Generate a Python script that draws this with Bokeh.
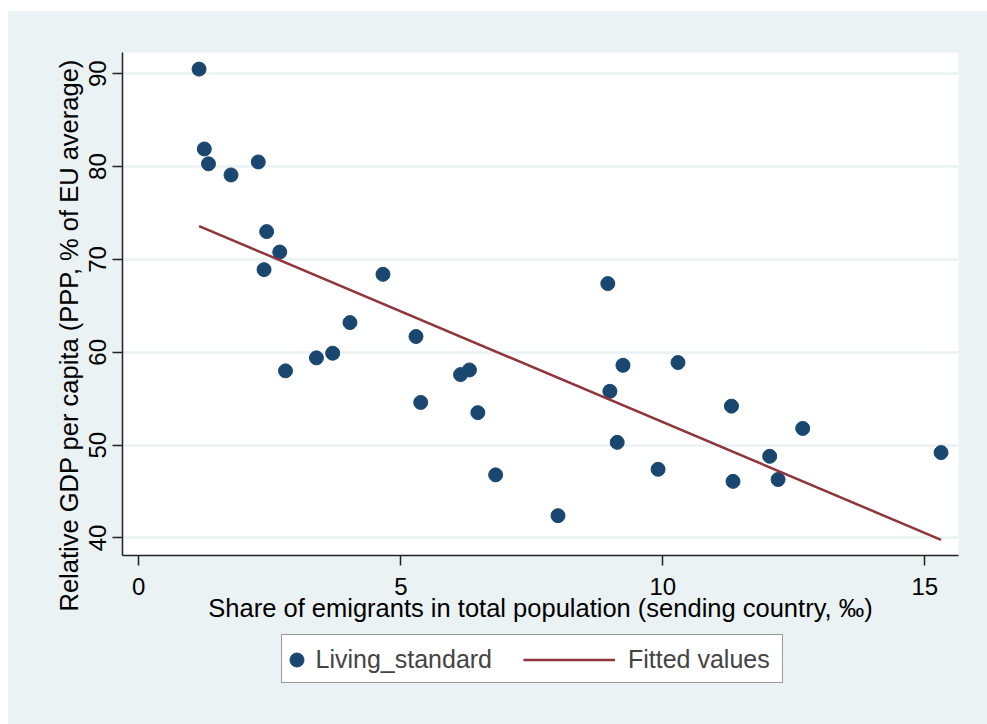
from bokeh.plotting import figure
from bokeh.layouts import column
from bokeh.models import Range1d, FixedTicker, Legend, LegendItem, Title
from bokeh.embed import file_html
from bokeh.resources import INLINE

# Data
emigrant_share = [1.15, 1.25, 1.33, 1.76, 2.28, 2.44, 2.69, 2.39, 4.66, 4.03,
                  3.70, 3.39, 2.80, 5.29, 6.14, 6.31, 5.38, 6.47, 6.81, 8.00,
                  8.95, 9.24, 10.29, 8.99, 11.31, 12.67, 9.13, 12.04, 9.91,
                  15.31, 11.34, 12.20]
living_standard = [90.5, 81.9, 80.3, 79.1, 80.5, 73.0, 70.8, 68.9, 68.4, 63.2,
                   59.9, 59.4, 58.0, 61.7, 57.6, 58.1, 54.6, 53.5, 46.8, 42.4,
                   67.4, 58.6, 58.9, 55.8, 54.2, 51.8, 50.3, 48.8, 47.4,
                   49.2, 46.1, 46.3]
fit_x = [1.15, 15.31]
fit_y = [73.6, 39.8]
x_ticks = [0, 5, 10, 15]
y_ticks = [40, 50, 60, 70, 80, 90]
series_names = ["Living_standard", "Fitted values"]
x_title = "Share of emigrants in total population (sending country, \u2030)"
y_title = "Relative GDP per capita (PPP, % of EU average)"

BG = "#EAF2F3"
NAVY = "#1A476F"
MAROON = "#90353B"
FONT = "Liberation Sans"

# ---- main chart ----
p = figure(width=979, height=620, output_backend="svg", toolbar_location=None,
           x_range=Range1d(-0.311, 15.643), y_range=Range1d(38.115, 92.29),
           min_border_left=114, min_border_right=29, min_border_top=41,
           min_border_bottom=76)
p.border_fill_color = BG
p.background_fill_color = "white"
p.outline_line_color = None

pts = p.scatter(emigrant_share, living_standard, size=14, marker="circle",
                fill_color=NAVY, line_color=NAVY)
fit = p.line(fit_x, fit_y, line_color=MAROON, line_width=2.5)

p.xgrid.grid_line_color = None
p.ygrid.grid_line_color = BG
p.ygrid.grid_line_width = 2.5

for ax in (p.xaxis[0], p.yaxis[0]):
    ax.axis_line_color = "#222222"
    ax.axis_line_width = 1.5
    ax.major_tick_line_color = "#222222"
    ax.major_tick_line_width = 1.5
    ax.major_tick_in = 0
    ax.major_tick_out = 10
    ax.minor_tick_line_color = None
    ax.major_label_text_font = FONT
    ax.major_label_text_font_size = "24px"
    ax.major_label_text_color = "black"
    ax.axis_label_text_font = FONT
    ax.axis_label_text_font_size = "25.5px"
    ax.axis_label_text_font_style = "normal"
    ax.axis_label_text_color = "black"

p.xaxis.ticker = FixedTicker(ticks=x_ticks)
p.yaxis.ticker = FixedTicker(ticks=y_ticks)
p.yaxis.major_label_orientation = "vertical"
p.xaxis.major_label_standoff = 12
p.yaxis.major_label_standoff = 6
p.xaxis.axis_label = x_title
p.xaxis.axis_label_standoff = -4

# y title: placed like the reference (starts low, beside the x title)
p.add_layout(Title(text=y_title, align="left", offset=-56, standoff=8,
                   text_font=FONT, text_font_size="25.5px",
                   text_font_style="normal", text_color="black"), "left")

# ---- legend strip below the chart (same frame alignment as the chart) ----
q = figure(width=979, height=93, output_backend="svg", toolbar_location=None,
           x_range=Range1d(0, 1), y_range=Range1d(0, 1),
           x_axis_location=None, y_axis_location=None,
           min_border_left=114, min_border_right=29, min_border_top=0,
           min_border_bottom=0)
q.border_fill_color = BG
q.background_fill_color = BG
q.outline_line_color = None
q.xgrid.grid_line_color = None
q.ygrid.grid_line_color = None

# same series drawn outside q's visible range: they only feed the legend keys
key_pts = q.scatter(emigrant_share, living_standard, size=14, marker="circle",
                    fill_color=NAVY, line_color=NAVY)
key_fit = q.line(fit_x, fit_y, line_color=MAROON, line_width=2.5)
ghost = q.scatter(emigrant_share, living_standard, size=14, marker="circle",
                  fill_alpha=0, line_alpha=0)

box = Legend(items=[LegendItem(label=" ", renderers=[ghost])],
             location=(159, 41), orientation="horizontal",
             padding=0, margin=0, glyph_width=20, glyph_height=47,
             label_standoff=0, label_width=480, label_height=47,
             label_text_font=FONT, label_text_font_size="25px",
             border_line_color="#333333", border_line_width=1.2,
             background_fill_color="white", background_fill_alpha=1.0)
leg1 = Legend(items=[LegendItem(label=series_names[0], renderers=[key_pts])],
              location=(156.5, 47), orientation="horizontal",
              padding=0, margin=0, glyph_width=35, glyph_height=35,
              label_standoff=2, label_height=35,
              label_text_font=FONT, label_text_font_size="25px",
              border_line_color=None, background_fill_alpha=0.0)
leg2 = Legend(items=[LegendItem(label=series_names[1], renderers=[key_fit])],
              location=(401, 47), orientation="horizontal",
              padding=0, margin=0, glyph_width=92, glyph_height=35,
              label_standoff=13, label_height=35,
              label_text_font=FONT, label_text_font_size="25px",
              border_line_color=None, background_fill_alpha=0.0)
q.add_layout(box, "center")
q.add_layout(leg1, "center")
q.add_layout(leg2, "center")

layout = column(p, q, spacing=0, styles={"background-color": BG})
layout.margin = (11, 0, 0, 8)
open("out.html", "w").write(file_html(layout, INLINE))
